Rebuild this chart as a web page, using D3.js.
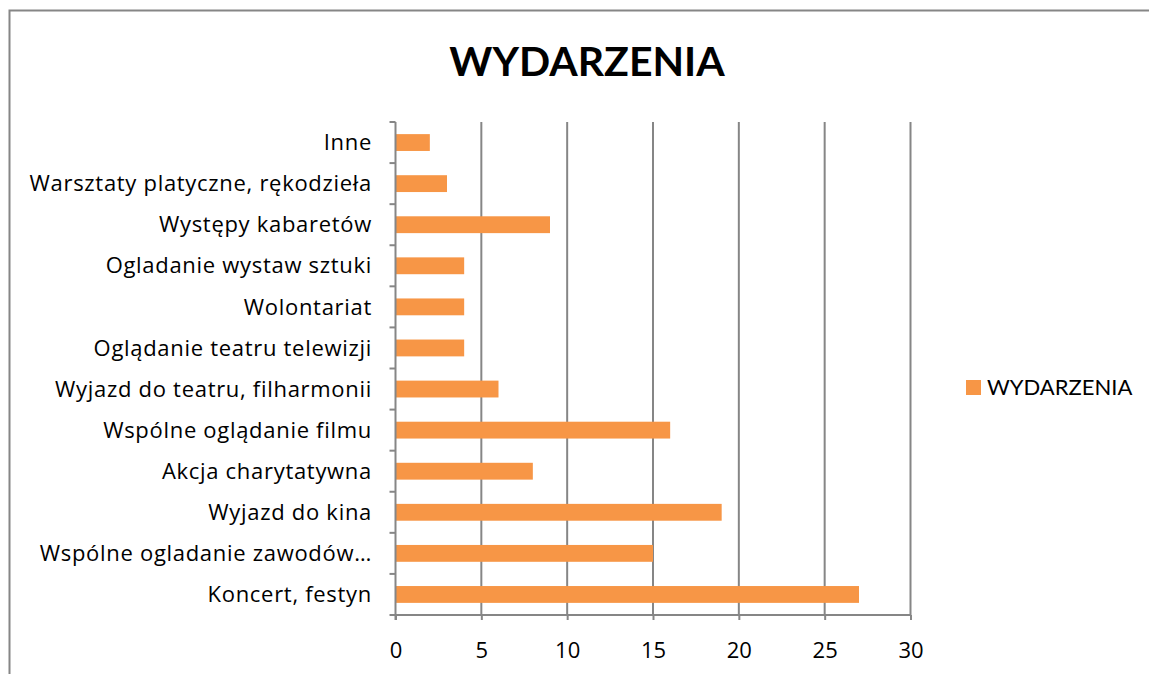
<!DOCTYPE html>
<html>
<head>
<meta charset="utf-8">
<script src="https://cdn.jsdelivr.net/npm/d3@7"></script>
<style>
  body { margin: 0; background: #fff; }
  svg { display: block; }
  text { font-family: Lato, "Open Sans", sans-serif; fill: #000; }
</style>
</head>
<body>
<svg id="chart"></svg>
<script>
// data, bottom to top as in the picture
var categories = [
  "Koncert, festyn",
  "Wspólne ogladanie zawodów…",
  "Wyjazd do kina",
  "Akcja charytatywna",
  "Wspólne oglądanie filmu",
  "Wyjazd do teatru, filharmonii",
  "Oglądanie teatru telewizji",
  "Wolontariat",
  "Ogladanie wystaw sztuki",
  "Występy kabaretów",
  "Warsztaty platyczne, rękodzieła",
  "Inne"
];
var values = [27, 15, 19, 8, 16, 6, 4, 4, 4, 9, 3, 2];
var xTicks = [0, 5, 10, 15, 20, 25, 30];
var seriesName = "WYDARZENIA";
var chartTitle = "WYDARZENIA";

var width = 1149, height = 674;
var AxisColor = "#868686", BarColor = "#f79646";
var plotLeft = 395.5, plotRight = 910.5, plotTop = 122, plotBottom = 615;
var labelSize = "22px";

var svg = d3.select("#chart")
    .attr("width", width)
    .attr("height", height);

// chart frame (only top and left edges are in view)
svg.append("path")
  .attr("d", "M9.5," + height + "V10.5H" + width)
  .attr("fill", "none")
  .attr("stroke", AxisColor)
  .attr("stroke-width", 2);

var x = d3.scaleLinear().domain([0, 30]).range([plotLeft, plotRight]);
var y = d3.scaleBand()
    .domain(categories.slice().reverse())
    .range([plotTop, plotBottom])
    .paddingInner(0.59)
    .paddingOuter(0.295);
var yEdges = d3.scaleLinear().domain([0, categories.length]).range([plotTop, plotBottom]);

// vertical grid lines
svg.append("g")
  .selectAll("line")
  .data(xTicks.slice(1))
  .enter().append("line")
  .attr("x1", function(d) { return x(d); })
  .attr("x2", function(d) { return x(d); })
  .attr("y1", plotTop)
  .attr("y2", plotBottom)
  .attr("stroke", AxisColor)
  .attr("stroke-width", 2);

// bars
svg.append("g")
  .selectAll("rect")
  .data(categories)
  .enter().append("rect")
  .attr("x", x(0))
  .attr("y", function(d) { return y(d); })
  .attr("width", function(d, i) { return x(values[i]) - x(0); })
  .attr("height", y.bandwidth())
  .attr("fill", BarColor);

// x axis
var xAxis = d3.axisBottom(x).tickValues(xTicks).tickSize(5).tickPadding(22);
var gx = svg.append("g")
  .attr("transform", "translate(0," + plotBottom + ")")
  .call(xAxis);
gx.select(".domain").remove();
gx.append("line").attr("x1", plotLeft).attr("x2", plotRight)
  .attr("stroke", AxisColor).attr("stroke-width", 2);
gx.selectAll(".tick line").attr("stroke", AxisColor).attr("stroke-width", 2);
gx.selectAll(".tick text")
  .style("font-family", "'Open Sans', sans-serif")
  .style("font-size", labelSize)
  .attr("fill", "#000");

// y axis line and category boundary ticks
var gy = svg.append("g");
gy.append("line")
  .attr("x1", plotLeft).attr("x2", plotLeft)
  .attr("y1", plotTop).attr("y2", plotBottom + 5)
  .attr("stroke", AxisColor).attr("stroke-width", 2);
gy.selectAll(".edge")
  .data(d3.range(categories.length + 1))
  .enter().append("line")
  .attr("class", "edge")
  .attr("x1", plotLeft - 6).attr("x2", plotLeft)
  .attr("y1", function(d) { return yEdges(d); })
  .attr("y2", function(d) { return yEdges(d); })
  .attr("stroke", AxisColor).attr("stroke-width", 2);
gy.selectAll("text")
  .data(categories)
  .enter().append("text")
  .attr("x", 372)
  .attr("y", function(d) { return y(d) + y.bandwidth() / 2; })
  .attr("dy", "0.35em")
  .attr("text-anchor", "end")
  .style("font-family", "'Open Sans', sans-serif")
  .style("font-size", labelSize)
  .style("letter-spacing", "0.7px")
  .text(function(d) { return d; });

// title
svg.append("text")
  .attr("x", 587)
  .attr("y", 76)
  .attr("text-anchor", "middle")
  .style("font-size", "41px")
  .style("font-weight", "bold")
  .text(chartTitle);

// legend
svg.append("rect")
  .attr("x", 966).attr("y", 380)
  .attr("width", 15).attr("height", 15)
  .attr("fill", BarColor);
svg.append("text")
  .attr("x", 987).attr("y", 387.5)
  .attr("dy", "0.35em")
  .style("font-size", labelSize)
  .text(seriesName);
</script>
</body>
</html>
